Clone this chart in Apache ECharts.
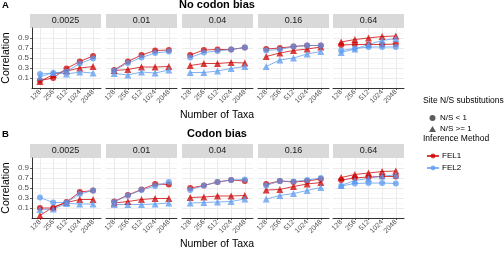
<!DOCTYPE html>
<html><head><meta charset="utf-8">
<script src="https://cdn.jsdelivr.net/npm/echarts@6/dist/echarts.min.js"></script>
<style>html,body{margin:0;padding:0;background:#fff}#c{width:504px;height:254px}</style>
</head><body><div id="c"></div><script>
const taxa = ['128', '256', '512', '1024', '2048'];
const rates = ['0.0025', '0.01', '0.04', '0.16', '0.64'];
const yTicks = [0.1, 0.3, 0.5, 0.7, 0.9];

// Panel A: No codon bias (one row per rate)
const A_FEL1_lt1 = [
  [0.05, 0.10, 0.29, 0.43, 0.54],
  [0.26, 0.43, 0.56, 0.65, 0.66],
  [0.56, 0.66, 0.67, 0.67, 0.71],
  [0.68, 0.70, 0.73, 0.75, 0.75],
  [0.76, 0.77, 0.77, 0.77, 0.78]
];
const A_FEL1_ge1 = [
  [0.03, 0.17, 0.24, 0.30, 0.33],
  [0.25, 0.27, 0.32, 0.32, 0.33],
  [0.35, 0.39, 0.39, 0.41, 0.40],
  [0.53, 0.60, 0.65, 0.68, 0.72],
  [0.82, 0.87, 0.90, 0.93, 0.94]
];
const A_FEL2_lt1 = [
  [0.18, 0.20, 0.23, 0.39, 0.49],
  [0.25, 0.40, 0.51, 0.60, 0.63],
  [0.51, 0.61, 0.64, 0.67, 0.71],
  [0.65, 0.67, 0.73, 0.75, 0.75],
  [0.65, 0.69, 0.72, 0.72, 0.72]
];
const A_FEL2_ge1 = [
  [0.12, 0.21, 0.18, 0.22, 0.20],
  [0.19, 0.16, 0.22, 0.20, 0.26],
  [0.21, 0.21, 0.24, 0.29, 0.33],
  [0.33, 0.46, 0.50, 0.58, 0.63],
  [0.61, 0.68, 0.77, 0.85, 0.89]
];
// Panel B: Codon bias
const B_FEL1_lt1 = [
  [0.10, 0.10, 0.22, 0.42, 0.45],
  [0.23, 0.36, 0.47, 0.58, 0.57],
  [0.50, 0.55, 0.62, 0.66, 0.64],
  [0.58, 0.64, 0.62, 0.64, 0.68],
  [0.66, 0.70, 0.72, 0.73, 0.73]
];
const B_FEL1_ge1 = [
  [-0.05, 0.12, 0.21, 0.27, 0.27],
  [0.20, 0.23, 0.27, 0.29, 0.29],
  [0.31, 0.32, 0.34, 0.34, 0.35],
  [0.46, 0.47, 0.53, 0.58, 0.61],
  [0.71, 0.77, 0.80, 0.83, 0.84]
];
const B_FEL2_lt1 = [
  [0.31, 0.21, 0.21, 0.38, 0.45],
  [0.22, 0.35, 0.46, 0.54, 0.62],
  [0.46, 0.55, 0.62, 0.66, 0.67],
  [0.55, 0.64, 0.63, 0.66, 0.70],
  [0.54, 0.59, 0.60, 0.60, 0.59]
];
const B_FEL2_ge1 = [
  [0.07, 0.08, 0.19, 0.18, 0.18],
  [0.17, 0.17, 0.17, 0.18, 0.20],
  [0.20, 0.21, 0.22, 0.23, 0.28],
  [0.28, 0.35, 0.39, 0.45, 0.51],
  [0.55, 0.65, 0.69, 0.74, 0.76]
];

const FONT = 'Liberation Sans, Arial, sans-serif';
const RED = '#cc0000', BLUE = '#5b9bf0';
const panelLeft = [30, 106, 182, 258, 333];
const panelW = 71;
const rowTop = [28, 158];
const rowH = 60;
const stripTop = [14, 144];

const grids = [], xAxes = [], yAxes = [], series = [], graphics = [];
const rows = [
  {FEL1: [A_FEL1_lt1, A_FEL1_ge1], FEL2: [A_FEL2_lt1, A_FEL2_ge1]},
  {FEL1: [B_FEL1_lt1, B_FEL1_ge1], FEL2: [B_FEL2_lt1, B_FEL2_ge1]}
];

for (let r = 0; r < 2; r++) {
  for (let p = 0; p < 5; p++) {
    const g = r * 5 + p;
    grids.push({left: panelLeft[p], top: rowTop[r], width: panelW, height: rowH, containLabel: false});
    xAxes.push({
      type: 'value', gridIndex: g, min: 0.4, max: 5.6,
      axisLine: {show: true, onZero: false, lineStyle: {color: '#000', width: 0.8}},
      axisTick: {show: true, length: 2, customValues: [1, 2, 3, 4, 5], lineStyle: {color: '#333', width: 0.8}},
      axisLabel: {show: true, customValues: [1, 2, 3, 4, 5], rotate: 45, margin: 3,
        fontSize: 7, color: '#4d4d4d', fontFamily: FONT,
        formatter: v => taxa[Math.round(v) - 1] || ''},
      splitLine: {show: true, lineStyle: {color: '#ebebeb', width: 1}}
    });
    yAxes.push({
      type: 'value', gridIndex: g, min: -0.1, max: 1.1, interval: 0.2,
      name: p === 0 ? 'Correlation' : '', nameLocation: 'middle', nameGap: 20,
      nameTextStyle: {fontSize: 10.5, color: '#000', fontFamily: FONT},
      axisLine: {show: p === 0, onZero: false, lineStyle: {color: '#000', width: 0.8}},
      axisTick: {show: p === 0, length: 2, customValues: yTicks, lineStyle: {color: '#333', width: 0.8}},
      axisLabel: {show: p === 0, customValues: yTicks, margin: 3, fontSize: 8, color: '#4d4d4d', fontFamily: FONT,
        formatter: v => v.toFixed(1)},
      splitLine: {show: true, lineStyle: {color: '#ebebeb', width: 1}},
      minorTick: {show: false, splitNumber: 2},
      minorSplitLine: {show: true, lineStyle: {color: '#f3f3f3', width: 0.6}}
    });
    graphics.push({type: 'rect', left: panelLeft[p], top: stripTop[r], shape: {width: panelW, height: 14},
      style: {fill: '#d9d9d9'}, silent: true});
    graphics.push({type: 'text', x: panelLeft[p] + panelW / 2, y: stripTop[r] + 7,
      style: {text: rates[p], fontSize: 9, fill: '#1a1a1a', fontFamily: FONT, align: 'center', verticalAlign: 'middle'}, silent: true});

    [['FEL1', RED], ['FEL2', BLUE]].forEach(([m, col]) => {
      rows[r][m].forEach((arr, si) => {
        series.push({
          type: 'line', name: m, xAxisIndex: g, yAxisIndex: g,
          data: arr[p].map((v, i) => [i + 1, v]),
          symbol: si === 0 ? 'circle' : 'triangle', symbolSize: si === 0 ? 6 : 7,
          showAllSymbol: true,
          lineStyle: {width: 1, color: col, opacity: 0.75},
          itemStyle: {color: col, opacity: 0.75},
          emphasis: {disabled: true}, silent: true, z: 3
        });
      });
    });
  }
}
series.push({type: 'scatter', name: 'N/S < 1', data: [], xAxisIndex: 0, yAxisIndex: 0, itemStyle: {color: '#333'}});
series.push({type: 'scatter', name: 'N/S >= 1', data: [], xAxisIndex: 0, yAxisIndex: 0, itemStyle: {color: '#333'}});

graphics.push({type: 'text', x: 2, y: 5, style: {text: 'A', fontSize: 9.5, fontWeight: 'bold', fill: '#000', fontFamily: FONT, verticalAlign: 'middle'}});
graphics.push({type: 'text', x: 2, y: 134, style: {text: 'B', fontSize: 9.5, fontWeight: 'bold', fill: '#000', fontFamily: FONT, verticalAlign: 'middle'}});
graphics.push({type: 'text', x: 217, y: 5, style: {text: 'No codon bias', fontSize: 11, fontWeight: 'bold', fill: '#000', fontFamily: FONT, align: 'center', verticalAlign: 'middle'}});
graphics.push({type: 'text', x: 217, y: 134, style: {text: 'Codon bias', fontSize: 11, fontWeight: 'bold', fill: '#000', fontFamily: FONT, align: 'center', verticalAlign: 'middle'}});
graphics.push({type: 'text', x: 217, y: 115, style: {text: 'Number of Taxa', fontSize: 10.5, fill: '#000', fontFamily: FONT, align: 'center', verticalAlign: 'middle'}});
graphics.push({type: 'text', x: 217, y: 244, style: {text: 'Number of Taxa', fontSize: 10.5, fill: '#000', fontFamily: FONT, align: 'center', verticalAlign: 'middle'}});
graphics.push({type: 'text', x: 423, y: 101, style: {text: 'Site N/S substitutions', fontSize: 8.5, fill: '#000', fontFamily: FONT, verticalAlign: 'middle'}});
graphics.push({type: 'text', x: 423, y: 139, style: {text: 'Inference Method', fontSize: 8.5, fill: '#000', fontFamily: FONT, verticalAlign: 'middle'}});

const chart = echarts.init(document.getElementById('c'), null, {renderer: 'canvas'});
chart.setOption({
  animation: false,
  backgroundColor: '#fff',
  grid: grids, xAxis: xAxes, yAxis: yAxes, series: series, graphic: graphics,
  legend: [
    {data: [{name: 'N/S < 1', icon: 'circle'}, {name: 'N/S >= 1', icon: 'triangle'}],
     orient: 'vertical', left: 424, top: 109, itemWidth: 7, itemHeight: 6, itemGap: 3,
     selectedMode: false, textStyle: {fontSize: 8, color: '#000', fontFamily: FONT, padding: [0, 0, 0, -1]}},
    {data: ['FEL1', 'FEL2'], orient: 'vertical', left: 421, top: 147, itemWidth: 12, itemHeight: 6, itemGap: 4,
     selectedMode: false, textStyle: {fontSize: 8, color: '#000', fontFamily: FONT, padding: [0, 0, 0, -2]}}
  ]
});
</script></body></html>
